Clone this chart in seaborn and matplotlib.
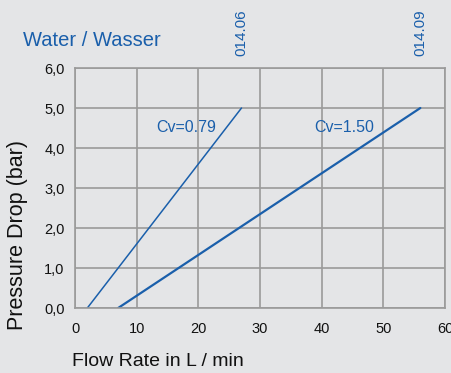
import numpy as np
import pandas as pd
import matplotlib
matplotlib.use("Agg")
import matplotlib.pyplot as plt
import seaborn as sns

# Data
valves = ["014.06", "014.06", "014.09", "014.09"]
flow = [2, 27, 7, 56]          # L/min
pressure = [0.0, 5.0, 0.0, 5.0]  # bar
cv_labels = ["Cv=0.79", "Cv=1.50"]
cv_pos = [(18.0, 4.5), (43.6, 4.5)]
valve_names = ["014.06", "014.09"]
y_ticks = [0, 1, 2, 3, 4, 5, 6]
x_ticks = [0, 10, 20, 30, 40, 50, 60]

df = pd.DataFrame({"valve": valves, "flow": flow, "pressure": pressure})

blue = "#1a5fab"
bg = "#e4e5e7"
grid = "#9a9a9a"

sns.set_style("white")
plt.rcParams["font.family"] = ["Liberation Sans", "DejaVu Sans"]

fig = plt.figure(figsize=(4.51, 3.73), dpi=100, facecolor=bg)
ax = fig.add_axes([75 / 451, 1 - 308 / 373, 370 / 451, 240 / 373])
ax.set_facecolor(bg)

sns.lineplot(data=df, x="flow", y="pressure", hue="valve", size="valve",
             sizes=[1.1, 1.6], palette=[blue, blue], legend=False, ax=ax)

ax.set_xlim(0, 60)
ax.set_ylim(0, 6)
ax.set_xticks(x_ticks)
ax.set_yticks(y_ticks)
ax.set_yticklabels([f"{v},0" for v in y_ticks])
ax.grid(True, color=grid, linewidth=1.2)
for s in ax.spines.values():
    s.set_color(grid)
    s.set_linewidth(1.2)
ax.tick_params(axis="both", colors=grid, length=4, width=1.2, labelcolor="#111111",
               labelsize=10.5)
ax.tick_params(axis="x", pad=6)
ax.set_xlabel("")
ax.set_ylabel("")

for txt, (x, y) in zip(cv_labels, cv_pos):
    ax.text(x, y, txt, color=blue, fontsize=11.5, ha="center", va="center")

for name in valve_names:
    xe = df.loc[df.valve == name, "flow"].max()
    ax.text(xe, 6.3, name, color=blue, fontsize=11, rotation=90,
            ha="center", va="bottom", clip_on=False)

fig.text(23 / 451, 1 - 40 / 373, "Water / Wasser", color=blue, fontsize=14.5,
         ha="left", va="center")
fig.text(18 / 451, 1 - 235 / 373, "Pressure Drop (bar)", color="#111111",
         fontsize=15.5, rotation=90, ha="center", va="center")
fig.text(72 / 451, 1 - 362 / 373, "Flow Rate in L / min", color="#111111",
         fontsize=14, ha="left", va="center")

fig.savefig("out.png", dpi=100, facecolor=bg)
